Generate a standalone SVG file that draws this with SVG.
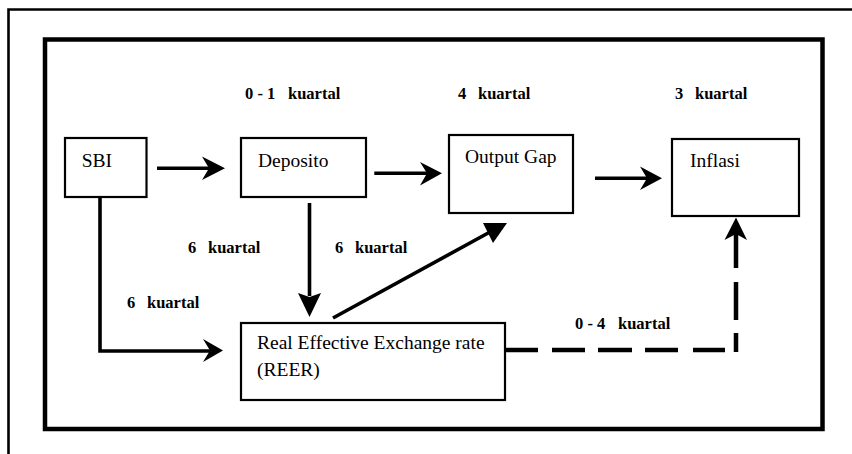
<svg xmlns="http://www.w3.org/2000/svg" width="852" height="454" viewBox="0 0 852 454">
<style>
.box{fill:#fff;stroke:#000;stroke-width:2.2}
.node{font-family:"Liberation Serif","Times New Roman",serif;font-size:19.5px;fill:#000}
.lbl{font-family:"Liberation Serif","Times New Roman",serif;font-size:16.5px;font-weight:bold;fill:#000}
.ln{fill:none;stroke:#000;stroke-width:3.6}
.dash{fill:none;stroke:#000;stroke-width:4.5}
.head{fill:#000;stroke:none}
</style>
<rect width="852" height="454" fill="#fff"/>
<g id="frame">
<path d="M8.5,454 V9.5 H852" fill="none" stroke="#000" stroke-width="2.6"/>
<rect x="45" y="39.5" width="777.5" height="389.5" fill="none" stroke="#000" stroke-width="4.5"/>
</g>
<g id="connectors">
<line class="ln" x1="157" y1="168.3" x2="212" y2="168.3"/>
<polygon class="head" points="225,168.3 202,156.5 209,168.3 202,180"/>
<line class="ln" x1="374.3" y1="173.3" x2="430" y2="173.3"/>
<polygon class="head" points="442,173.3 420,162 427,173.3 420,185.5"/>
<line class="ln" x1="595" y1="178.3" x2="650" y2="178.3"/>
<polygon class="head" points="662,178.3 640,166.5 647,178.3 640,190"/>
<line class="ln" x1="309.5" y1="203" x2="309.5" y2="296"/>
<polygon class="head" points="309.5,317 298,293 309.5,297 321,293"/>
<path class="ln" d="M100,197 V351 H212"/>
<polygon class="head" points="223,350.5 203,339 210,350.5 203,362"/>
<line class="ln" x1="333" y1="318" x2="490" y2="232"/>
<polygon class="head" points="483,223 507,223 493,243"/>
<path class="dash" d="M505,350 H538 M552,350 H585 M598,350 H632 M645,350 H678 M693,350 H725 M736,352 V333 M736,320 V282 M736,268 V233"/>
<polygon class="head" points="736,217.5 724.5,240 736,234 747,240"/>
</g>
<g id="SBI">
<rect class="box" x="65" y="138" width="81.5" height="59"/>
<text class="node" x="81.7" y="167">SBI</text>
</g>
<g id="Deposito">
<rect class="box" x="241" y="138" width="125" height="59"/>
<text class="node" x="258" y="167">Deposito</text>
</g>
<g id="OutputGap">
<rect class="box" x="449" y="135" width="124" height="78"/>
<text class="node" x="465" y="163">Output Gap</text>
</g>
<g id="Inflasi">
<rect class="box" x="672" y="139" width="127" height="77"/>
<text class="node" x="690" y="167">Inflasi</text>
</g>
<g id="REER">
<rect class="box" x="241" y="323" width="264" height="77"/>
<text class="node" x="257" y="349">Real Effective Exchange rate</text>
<text class="node" x="257" y="376">(REER)</text>
</g>
<g id="labels">
<text class="lbl" y="99"><tspan x="245">0 - 1</tspan><tspan x="288">kuartal</tspan></text>
<text class="lbl" y="99"><tspan x="458">4</tspan><tspan x="478">kuartal</tspan></text>
<text class="lbl" y="99"><tspan x="675">3</tspan><tspan x="695">kuartal</tspan></text>
<text class="lbl" y="253"><tspan x="188">6</tspan><tspan x="208">kuartal</tspan></text>
<text class="lbl" y="253"><tspan x="335">6</tspan><tspan x="355">kuartal</tspan></text>
<text class="lbl" y="308"><tspan x="127">6</tspan><tspan x="147">kuartal</tspan></text>
<text class="lbl" y="329"><tspan x="575">0 - 4</tspan><tspan x="618">kuartal</tspan></text>
</g>
</svg>
